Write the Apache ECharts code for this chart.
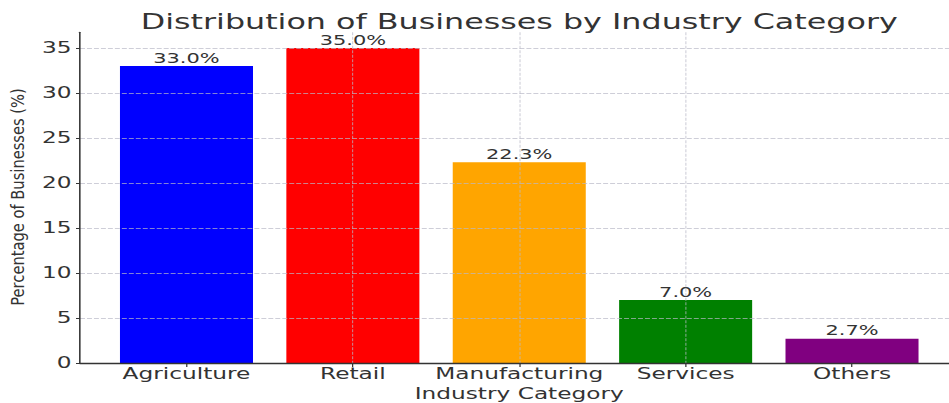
<!DOCTYPE html>
<html>
<head>
<meta charset="utf-8">
<script src="https://cdn.jsdelivr.net/npm/echarts@6/dist/echarts.min.js"></script>
<style>
  html, body { margin: 0; padding: 0; background: #fff; overflow: hidden; width: 949px; height: 403px; }
  #chart { position: absolute; left: 0; top: 0; height: 403px; transform-origin: 0 0; }
</style>
</head>
<body>
<div id="chart"></div>
<script>
// Industry categories and their share of businesses (%)
const categories = ['Agriculture', 'Retail', 'Manufacturing', 'Services', 'Others'];
const shares = [33.0, 35.0, 22.3, 7.0, 2.7];
const yTicks = [0, 5, 10, 15, 20, 25, 30, 35];

const barColors = ['#0000ff', '#ff0000', '#ffa500', '#008000', '#800080'];

// The figure is laid out on a narrower canvas and widened horizontally.
const SX = 1.55;
const FULL_W = 1038;
const PAD_X = 80;
const plotW = (FULL_W - 2 * PAD_X) / SX;
const xMin = -0.64, xMax = categories.length - 1 + 0.64;

const el = document.getElementById('chart');
el.style.width = (FULL_W / SX) + 'px';
el.style.transform = 'scaleX(' + SX + ')';

const FONT = 'DejaVu Sans';
const gridColor = 'rgba(185,185,200,0.7)';

const chart = echarts.init(el, null, { renderer: 'svg' });
chart.setOption({
  backgroundColor: '#fff',
  animation: false,
  title: {
    text: 'Distribution of Businesses by Industry Category',
    left: 'center',
    top: 6,
    textStyle: { fontFamily: FONT, fontSize: 20.5, fontWeight: 'normal', color: '#333' }
  },
  grid: {
    left: PAD_X / SX, right: PAD_X / SX, top: 32.25, bottom: 40,
    containLabel: false, outerBoundsMode: 'none'
  },
  xAxis: {
    type: 'value',
    min: xMin,
    max: xMax,
    z: 3,
    name: 'Industry Category',
    nameLocation: 'middle',
    nameGap: 23,
    nameTextStyle: { fontFamily: FONT, fontSize: 15, color: '#333' },
    axisLine: { show: true, onZero: false, lineStyle: { color: '#333', width: 1.3 } },
    axisTick: {
      show: true, customValues: categories.map((c, i) => i), length: 4,
      lineStyle: { color: '#333', width: 0.8 }
    },
    axisLabel: {
      customValues: categories.map((c, i) => i),
      formatter: v => categories[Math.round(v)] || '',
      fontFamily: FONT, fontSize: 15, color: '#333', margin: 4
    },
    splitLine: {
      show: true, showMinLine: false, showMaxLine: false,
      lineStyle: { color: gridColor, width: 0.7, type: [3, 1.5] }
    }
  },
  yAxis: {
    type: 'value',
    min: yTicks[0],
    max: 36.75,
    interval: 5,
    z: 3,
    axisLine: { show: true, onZero: false, lineStyle: { color: '#333', width: 1 } },
    axisTick: { show: true, length: 4 / SX, lineStyle: { color: '#333', width: 1 } },
    axisLabel: {
      showMaxLabel: false,
      formatter: v => (yTicks.indexOf(v) >= 0 ? String(v) : ''),
      fontFamily: FONT, fontSize: 15, color: '#333', margin: 5.5
    },
    splitLine: {
      show: true, showMinLine: false, showMaxLine: false,
      lineStyle: { color: gridColor, width: 1, type: [3.2, 1.3] }
    }
  },
  graphic: [{
    type: 'text',
    x: 18 / SX,
    y: 197,
    rotation: Math.PI / 2,
    scaleX: 1.02,
    scaleY: 0.82,
    style: {
      text: 'Percentage of Businesses (%)',
      fontFamily: FONT, fontSize: 14.4, fill: '#333',
      align: 'center', verticalAlign: 'middle'
    }
  }],
  series: [{
    type: 'bar',
    z: 2,
    barWidth: 0.8 * plotW / (xMax - xMin),
    data: shares.map((v, i) => ({ value: [i, v], itemStyle: { color: barColors[i] } })),
    label: {
      show: true,
      position: 'top',
      distance: 1,
      formatter: p => p.value[1].toFixed(1) + '%',
      fontFamily: FONT, fontSize: 13.5, color: '#333'
    }
  }]
});
</script>
</body>
</html>
